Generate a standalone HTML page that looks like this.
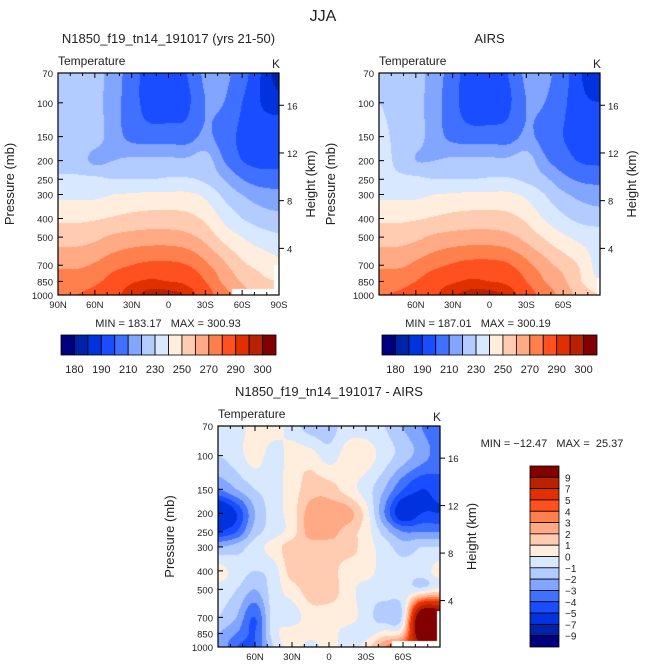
<!DOCTYPE html>
<html><head><meta charset="utf-8">
<style>
body{margin:0;background:#fff;width:647px;height:671px;overflow:hidden;position:relative;font-family:"Liberation Sans",sans-serif}
canvas{position:absolute}
svg{position:absolute;left:0;top:0}
text{font-family:"Liberation Sans",sans-serif;fill:#222;white-space:pre}
</style></head><body>
<canvas id="c1"></canvas>
<canvas id="c2"></canvas>
<canvas id="c3"></canvas>
<svg id="s" width="647" height="671"></svg>
<script>
const pressures=[70,100,150,200,250,300,400,500,700,850,1000];
const lats=[90,75,60,45,30,15,0,-15,-30,-45,-60,-75,-90];
const tLevels=[180,185,190,200,210,220,230,240,250,260,270,280,290,295,300];
const tLabels=[180,190,210,230,250,270,290,300];
const dLevels=[-9,-7,-5,-4,-3,-2,-1,0,1,2,3,4,5,7,9];
const colors=["#00007f","#0022a8","#0033dd","#1a4dff","#4070ff","#82a5ff","#b3ccff","#d8e8ff","#ffeedd","#ffcbb1","#ffaa85","#ff7f4d","#ff5020","#e03000","#b82200","#820000"];
const modelT=[
[225,225,224,215,205,195,195,200,212,212,205,190,183],
[225,225,224,214,205,195,195,198,210,210,200,190,187],
[225,225,224,215,207,205,205,205,212,205,198,195,195],
[225,225,218,220,222,222,222,222,225,210,200,197,197],
[232,232,232,230,230,230,231,231,228,220,210,205,205],
[238,238,238,240,241,242,242,242,238,228,220,215,213],
[248,248,249,251,253,254,254,253,248,238,230,225,223],
[256,256,258,262,264,265,265,263,257,247,240,235,232],
[268,268,271,276,280,282,282,280,272,262,252,247,243],
[275,275,278,284,289,291,290,288,280,268,259,252,250],
[278,280,283,288,293,297,297,294,285,274,264,256,252]];
const airsT=[
[225,225,224,215,205,194,194,200,212,212,205,190,187],
[230,225,224,214,204,193,193,198,210,210,202,192,190],
[234,227,224,215,207,205,205,205,212,206,200,196,195],
[234,228,220,220,222,222,222,222,225,212,204,199,198],
[232,232,232,230,230,230,231,231,228,222,213,208,207],
[238,238,238,240,241,242,242,242,238,230,222,217,215],
[248,248,249,251,253,254,254,253,248,239,232,227,225],
[256,256,258,262,264,265,265,263,257,249,242,237,235],
[268,268,272,277,281,283,283,281,273,264,256,248,235],
[276,276,280,286,289,291,290,288,280,270,262,250,240],
[280,281,285,289,294,297,297,294,285,276,266,256,250]];
const diffT=[
[-0.5,-0.5,0.5,0.5,-0.5,-1.5,-1.5,-0.5,-0.5,-1,-2,-3,-4],
[-1,-0.5,0.5,-0.5,0.5,0.5,-0.5,0.5,0.5,-0.5,-1.5,-2.5,-3.5],
[-3,-2,-1,-0.5,0.5,1.5,1.5,0.5,-0.5,-2,-4,-5,-4.5],
[-7,-5,-2,-0.5,0.5,2.5,2.5,2.5,0.5,-3,-6,-5,-5],
[-5,-4,-1.5,-0.5,0.5,2.5,2.5,1.5,0.5,-1.5,-3,-3,-3],
[-2,-1.5,-0.5,0.5,1.5,1.5,1.5,1.5,0.5,-0.5,-1.5,-1,-1],
[0.5,-0.5,-1,-0.5,1.5,1.5,1.5,0.5,0.5,-0.5,-0.5,-0.5,0.5],
[-0.5,-1,-2,-0.5,0.5,1.5,1.5,0.5,-0.5,-0.5,-0.5,-0.5,0.5],
[-1,-2,-4,-0.5,-0.5,0.5,0.5,0.5,-0.5,-1.5,-0.5,12,12],
[-2,-3,-4,-0.5,0.5,0.5,0.5,-0.5,-0.5,0.5,1.5,12,12],
[-2,-4,-4,-1,0.5,-0.5,0.5,-0.5,0.5,3,5,8,8]];

const L0=Math.log(70),L1=Math.log(1000);
function hex(c){return [parseInt(c.substr(1,2),16),parseInt(c.substr(3,2),16),parseInt(c.substr(5,2),16)];}
const rgb=colors.map(hex);
function cr(p0,p1,p2,p3,t){return 0.5*((2*p1)+(-p0+p2)*t+(2*p0-5*p1+4*p2-p3)*t*t+(-p0+3*p1-3*p2+p3)*t*t*t);}
function drawField(id,x0,y0,w,h,grid,levels){
  const cv=document.getElementById(id);cv.width=w;cv.height=h;cv.style.left=x0+'px';cv.style.top=y0+'px';
  const ctx=cv.getContext('2d');const im=ctx.createImageData(w,h);
  const lp=pressures.map(p=>Math.log(p));const nr=grid.length,nc=lats.length;
  const g=(r,c)=>grid[Math.max(0,Math.min(nr-1,r))][Math.max(0,Math.min(nc-1,c))];
  for(let j=0;j<h;j++){
    const l=L0+(j+0.5)/h*(L1-L0);let k=0;while(k<lp.length-2&&l>lp[k+1])k++;
    const fy=(l-lp[k])/(lp[k+1]-lp[k]);
    for(let i=0;i<w;i++){
      const xf=(i+0.5)/w*(nc-1);let a=Math.min(Math.floor(xf),nc-2);const fx=xf-a;
      const rows=[];for(let r=-1;r<=2;r++)rows.push(cr(g(k+r,a-1),g(k+r,a),g(k+r,a+1),g(k+r,a+2),fx));
      const v=cr(rows[0],rows[1],rows[2],rows[3],fy);
      let c=0;while(c<levels.length&&v>=levels[c])c++;
      const o=(j*w+i)*4;im.data[o]=rgb[c][0];im.data[o+1]=rgb[c][1];im.data[o+2]=rgb[c][2];im.data[o+3]=255;
    }}
  ctx.putImageData(im,0,0);return ctx;
}
const P1={x:58,y:73,w:221,h:222},P2={x:379,y:73,w:221,h:222},P3={x:218,y:426,w:222,h:221};
const c1=drawField('c1',P1.x,P1.y,P1.w,P1.h,modelT,tLevels);
c1.fillStyle='#fff';c1.fillRect(174,216,47,6);c1.fillRect(216,192,5,30);
const c2=drawField('c2',P2.x,P2.y,P2.w,P2.h,airsT,tLevels);
c2.fillStyle='#fff';c2.fillRect(218,205,3,17);
const c3=drawField('c3',P3.x,P3.y,P3.w,P3.h,diffT,dLevels);
c3.fillStyle='#fff';c3.fillRect(174,215,48,6);c3.fillRect(219,185,3,36);

const S=document.getElementById('s');const NS='http://www.w3.org/2000/svg';
function el(t,a,txt){const e=document.createElementNS(NS,t);for(const k in a)e.setAttribute(k,a[k]);if(txt!==undefined)e.textContent=txt;S.appendChild(e);return e;}
function T(x,y,s,txt,anchor,name,extra){const e=el('text',Object.assign({x:x,y:y,'font-size':s,'text-anchor':anchor||'middle'},extra||{}),txt);return e;}
const py=(P,p)=>P.y+(Math.log(p)-L0)/(L1-L0)*P.h;
const lx=(P,lat)=>P.x+(90-lat)/180*P.w;
const heightKm=[4,8,12,16];
function hToP(z){return 1013*Math.exp(-z/7);}
function axes(P,title,xlabs,idx){
  const f=el('rect',{x:P.x,y:P.y,width:P.w,height:P.h,fill:'none',stroke:'#000','stroke-width':1.2});
  
  T(P.x+P.w/2,P.y-30,13,title,'middle','plot-title-'+idx);
  T(P.x,P.y-8,12,'Temperature','start','variable-label-'+idx);
  T(P.x+P.w-3,P.y-5,12,'K','middle','units-label-'+idx);
  pressures.forEach(p=>{const y=py(P,p);el('line',{x1:P.x,x2:P.x+5,y1:y,y2:y,stroke:'#000'});
    T(P.x-5,y+4,9.5,String(p),'end','pressure-tick-label');});
  T(P.x-44,P.y+P.h/2,13,'Pressure (mb)','middle','y-axis-title-'+idx,{transform:`rotate(-90 ${P.x-44} ${P.y+P.h/2})`});
  heightKm.forEach(z=>{const y=py(P,hToP(z));el('line',{x1:P.x+P.w,x2:P.x+P.w+5,y1:y,y2:y,stroke:'#000'});
    T(P.x+P.w+8,y+4,9.5,String(z),'start','height-tick-label');});
  const rx=P.x+P.w+36;T(rx,P.y+P.h/2,13,'Height (km)','middle','right-axis-title-'+idx,{transform:`rotate(-90 ${rx} ${P.y+P.h/2})`});
  for(let lat=90;lat>=-90;lat-=10){const x=lx(P,lat);const big=lat%30==0;
    el('line',{x1:x,x2:x,y1:P.y+P.h,y2:P.y+P.h-(big?5:3),stroke:'#000'});
    el('line',{x1:x,x2:x,y1:P.y,y2:P.y+(big?5:3),stroke:'#000'});}
  xlabs.forEach(l=>{const lat=l=='0'?0:(l.endsWith('N')?+l.slice(0,-1):-l.slice(0,-1));
    T(lx(P,lat),P.y+P.h+13,9.5,l,'middle','x-tick-label');});
}
T(323,21,16,'JJA','middle','figure-title');
axes(P1,'N1850_f19_tn14_191017 (yrs 21-50)',['90N','60N','30N','0','30S','60S','90S'],1);
axes(P2,'AIRS',['60N','30N','0','30S','60S'],2);
axes(P3,'N1850_f19_tn14_191017 - AIRS',['60N','30N','0','30S','60S'],3);
T(168,327,11,'MIN = 183.17   MAX = 300.93','middle','stats-label-1');
T(478,327,11,'MIN = 187.01   MAX = 300.19','middle','stats-label-2');
T(552,447,11,'MIN = \u221212.47   MAX =  25.37','middle','stats-label-3');
function hbar(x0,x1,y,idx){const n=colors.length,bw=(x1-x0)/n;
  colors.forEach((c,i)=>{const r=el('rect',{x:x0+i*bw,y:y,width:bw,height:20,fill:c,stroke:'#000','stroke-width':0.8});
    });
  tLabels.forEach(v=>{const b=tLevels.indexOf(v)+1;T(x0+b*bw,y+38,11,String(v),'middle','colorbar-label-'+idx);});}
hbar(61,276,335,1);hbar(382,597,335,2);
(function(){const x0=530,y0=466,bh=181/16,w=29;
  for(let i=0;i<16;i++){const r=el('rect',{x:x0,y:y0+i*bh,width:w,height:bh,fill:colors[15-i],stroke:'#000','stroke-width':0.8});
    }
  dLevels.slice().reverse().forEach((v,i)=>{T(x0+w+6,y0+(i+1)*bh+4,10,v<0?'\u2212'+(-v):String(v),'start','diff-colorbar-label');});})();
</script>
</body></html>
